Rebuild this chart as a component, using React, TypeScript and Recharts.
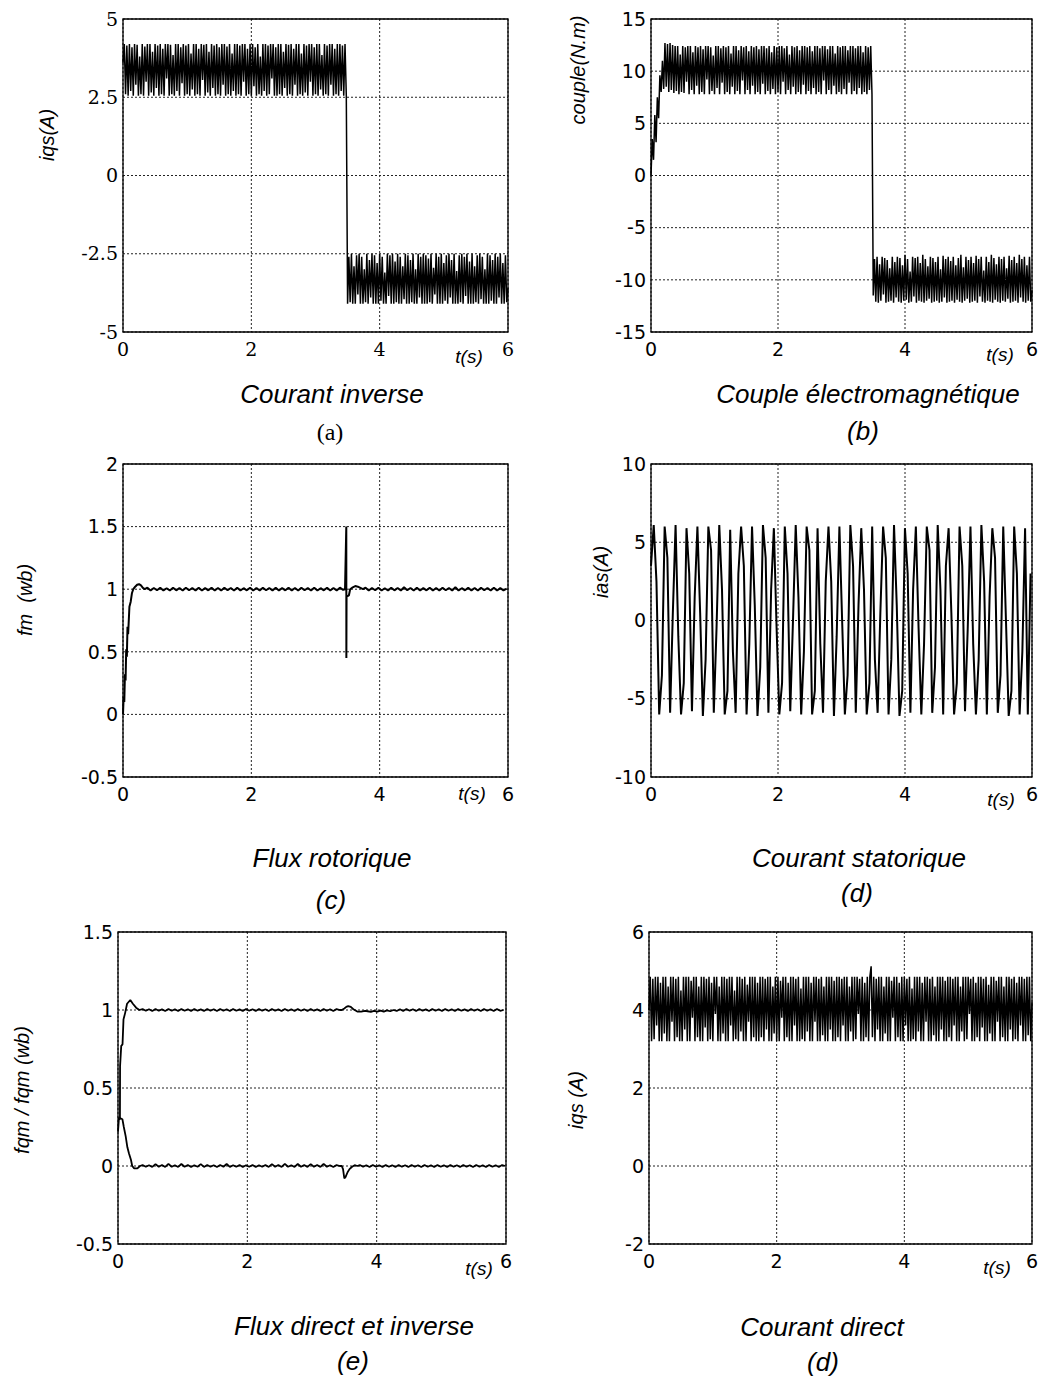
import React from 'react';
import { LineChart, Line, XAxis, YAxis, CartesianGrid, ReferenceArea } from 'recharts';

// ---------- tick labels ----------
const timeTicks = [0, 2, 4, 6];
const iqsInvTicks = [-5, -2.5, 0, 2.5, 5];
const coupleTicks = [-15, -10, -5, 0, 5, 10, 15];
const fluxTicks = [-0.5, 0, 0.5, 1, 1.5, 2];
const iasTicks = [-10, -5, 0, 5, 10];
const fdqTicks = [-0.5, 0, 0.5, 1, 1.5];
const iqsDirTicks = [-2, 0, 2, 4, 6];

// ---------- (a) courant inverse, sampled every 0.02 s ----------
const iqsInvStep = 0.02;
const iqsInvValues = [
  3.6, 4.2, 2.6, 4.15, 2.55, 4.2, 2.7, 4.1, 2.55, 4.2,
  2.9, 4.18, 2.55, 3.8, 2.6, 4.2, 2.55, 4.12, 3.0, 4.2,
  2.55, 4.2, 2.65, 3.95, 2.55, 4.2, 2.8, 4.15, 2.55, 4.2,
  2.6, 4.05, 2.55, 4.2, 3.1, 4.2, 2.55, 4.18, 2.6, 3.85,
  2.55, 4.2, 2.7, 4.2, 2.55, 4.1, 2.95, 4.2, 2.55, 4.15,
  2.6, 4.2, 2.55, 3.9, 2.75, 4.2, 2.55, 4.2, 2.6, 4.05,
  2.55, 4.2, 3.05, 4.18, 2.55, 4.2, 2.65, 3.95, 2.55, 4.2,
  2.8, 4.15, 2.55, 4.2, 2.6, 4.1, 2.55, 4.2, 2.9, 4.2,
  2.55, 4.12, 2.6, 4.2, 2.55, 3.9, 2.7, 4.2, 2.55, 4.2,
  2.6, 4.15, 2.55, 4.2, 3.0, 4.2, 2.55, 4.05, 2.6, 4.2,
  2.55, 4.2, 2.85, 4.1, 2.55, 4.2, 2.6, 3.8, 2.55, 4.2,
  2.7, 4.2, 2.55, 4.15, 2.6, 4.2, 3.1, 4.2, 2.55, 4.1,
  2.55, 4.2, 2.6, 4.2, 2.55, 3.95, 2.8, 4.2, 2.55, 4.18,
  2.6, 4.2, 2.55, 4.05, 2.9, 4.2, 2.55, 4.2, 2.6, 3.9,
  2.55, 4.2, 2.65, 4.15, 2.55, 4.2, 3.0, 4.2, 2.55, 4.1,
  2.6, 4.2, 2.55, 4.2, 2.75, 3.85, 2.55, 4.2, 2.6, 4.15,
  2.55, 4.2, 2.9, 4.2, 2.55, 4.05, 2.6, 4.2, 2.55, 4.2,
  2.7, 4.15, 2.55, 4.2, 2.55,
  -4.1, -2.6, -4.05, -2.5, -4.1, -2.9, -4.1, -2.55, -3.8, -2.5,
  -4.1, -2.6, -4.1, -3.0, -4.05, -2.5, -4.1, -2.7, -3.9, -2.5,
  -4.1, -2.55, -4.1, -2.8, -4.1, -2.5, -4.0, -2.6, -4.1, -3.1,
  -4.1, -2.5, -3.85, -2.55, -4.1, -2.5, -4.1, -2.75, -4.05, -2.5,
  -4.1, -2.6, -4.1, -2.9, -3.95, -2.5, -4.1, -2.55, -4.1, -2.7,
  -4.05, -2.5, -4.1, -3.0, -4.1, -2.5, -3.9, -2.6, -4.1, -2.5,
  -4.1, -2.55, -4.1, -2.65, -4.05, -2.5, -4.1, -2.95, -3.8, -2.5,
  -4.1, -2.6, -4.1, -2.5, -4.1, -2.8, -4.0, -2.55, -4.1, -2.5,
  -3.9, -2.7, -4.1, -2.5, -4.1, -3.05, -4.1, -2.55, -4.05, -2.5,
  -4.1, -2.6, -3.85, -2.5, -4.1, -2.75, -4.1, -2.5, -4.1, -2.9,
  -4.05, -2.55, -4.1, -2.5, -3.95, -2.6, -4.1, -3.0, -4.1, -2.5,
  -4.1, -2.55, -4.0, -2.7, -4.1, -2.5, -4.1, -2.6, -3.9, -2.5,
  -4.1, -2.8, -4.1, -2.55, -4.05, -3.6,
];

// ---------- (b) couple électromagnétique, sampled every 0.02 s ----------
const coupleStep = 0.02;
const coupleValues = [
  0, 3.5, 1.5, 5.8, 3.2, 7.5, 5.5, 9.6, 8.0, 11.0,
  8.3, 12.7, 8.5, 12.6, 8.0, 12.7, 8.2, 12.5, 7.9, 12.4,
  8.1, 12.4, 7.8, 11.6, 8.0, 12.4, 7.9, 12.3, 9.0, 12.4,
  7.8, 12.4, 8.2, 11.8, 7.8, 12.4, 8.6, 12.3, 7.8, 12.4,
  8.0, 12.1, 7.8, 12.4, 9.2, 12.4, 7.8, 12.3, 8.1, 11.5,
  7.8, 12.4, 8.4, 12.4, 7.8, 12.2, 8.9, 12.4, 7.8, 12.3,
  8.0, 12.4, 7.8, 11.7, 8.5, 12.4, 7.8, 12.4, 8.1, 12.0,
  7.8, 12.4, 9.1, 12.3, 7.8, 12.4, 8.2, 11.9, 7.8, 12.4,
  8.6, 12.3, 7.8, 12.4, 8.0, 12.1, 7.8, 12.4, 8.8, 12.4,
  7.8, 12.2, 8.1, 12.4, 7.8, 11.8, 8.3, 12.4, 7.8, 12.3,
  8.0, 12.4, 7.8, 12.4, 9.0, 12.2, 7.8, 12.4, 8.2, 11.6,
  7.8, 12.4, 8.5, 12.3, 7.8, 12.4, 8.0, 12.0, 7.8, 12.4,
  8.7, 12.4, 7.8, 12.3, 8.1, 12.4, 7.8, 11.9, 8.4, 12.4,
  7.8, 12.4, 8.0, 12.2, 7.8, 12.4, 9.1, 12.4, 7.8, 12.1,
  8.2, 12.4, 7.8, 12.4, 8.6, 11.7, 7.8, 12.4, 8.0, 12.3,
  7.8, 12.4, 8.3, 12.4, 7.8, 12.0, 8.9, 12.4, 7.8, 12.4,
  8.1, 12.2, 7.8, 12.4, 8.4, 12.4, 7.8, 11.8, 8.0, 12.4,
  7.8, 12.3, 8.2, 12.4, 7.8,
  -11.5, -8.0, -12.1, -7.8, -12.2, -8.5, -12.0, -7.8, -11.4, -7.9,
  -12.2, -8.1, -12.1, -8.9, -12.0, -7.8, -12.2, -8.3, -11.7, -7.8,
  -12.1, -7.9, -12.2, -8.6, -12.0, -7.6, -11.9, -8.0, -12.2, -9.2,
  -12.1, -7.8, -11.6, -7.9, -12.2, -7.8, -12.0, -8.4, -12.1, -7.6,
  -12.2, -8.0, -12.0, -8.7, -11.8, -7.8, -12.2, -7.9, -12.1, -8.3,
  -12.0, -7.8, -12.2, -9.0, -12.1, -7.7, -11.7, -8.0, -12.2, -7.8,
  -12.1, -8.2, -12.0, -7.8, -12.2, -8.6, -11.9, -7.9, -12.1, -7.6,
  -12.2, -8.8, -12.0, -7.8, -11.8, -8.1, -12.2, -7.8, -12.1, -8.4,
  -12.0, -7.7, -12.2, -8.0, -11.6, -7.8, -12.1, -9.1, -12.2, -7.8,
  -12.0, -8.3, -12.1, -7.6, -12.2, -7.9, -11.9, -8.5, -12.1, -7.8,
  -12.2, -8.0, -12.0, -7.8, -12.1, -8.9, -11.8, -7.7, -12.2, -8.1,
  -12.1, -7.8, -12.0, -8.4, -12.2, -7.6, -11.7, -8.0, -12.1, -7.8,
  -12.2, -8.6, -12.0, -7.8, -12.1, -11.0,
];

// ---------- (c) flux rotorique ----------
const fluxRiseT = [0, 0.01, 0.02, 0.03, 0.04, 0.05, 0.06, 0.07, 0.08, 0.1, 0.12, 0.14, 0.16, 0.19, 0.22, 0.25, 0.28, 0.31, 0.34];
const fluxRiseV = [0, 0.14, 0.1, 0.32, 0.27, 0.52, 0.46, 0.7, 0.64, 0.86, 0.9, 0.97, 1.0, 1.02, 1.035, 1.04, 1.03, 1.01, 1.0];
const fluxPlateau1Start = 0.38;
const fluxPlateau1Step = 0.05;
const fluxPlateau1 = [
  1.012, 0.99, 1.01, 0.992, 1.012, 0.99, 1.008, 0.99, 1.012, 0.991,
  1.01, 0.99, 1.012, 0.992, 1.01, 0.99, 1.012, 0.99, 1.009, 0.991,
  1.012, 0.99, 1.01, 0.99, 1.012, 0.992, 1.01, 0.99, 1.012, 0.99,
  1.008, 0.991, 1.012, 0.99, 1.01, 0.99, 1.012, 0.992, 1.01, 0.99,
  1.012, 0.99, 1.009, 0.991, 1.012, 0.99, 1.01, 0.99, 1.012, 0.992,
  1.01, 0.99, 1.012, 0.99, 1.008, 0.991, 1.012, 0.99, 1.01, 0.99,
  1.012, 0.995,
];
const fluxEventT = [3.46, 3.48, 3.481, 3.484, 3.5, 3.52, 3.54, 3.58, 3.62, 3.66, 3.7, 3.74];
const fluxEventV = [1.0, 1.5, 0.45, 0.95, 0.945, 0.95, 1.0, 1.015, 1.025, 1.02, 1.01, 1.0];
const fluxPlateau2Start = 3.78;
const fluxPlateau2Step = 0.05;
const fluxPlateau2 = [
  1.012, 0.99, 1.01, 0.992, 1.012, 0.99, 1.008, 0.99, 1.012, 0.991,
  1.01, 0.99, 1.015, 0.992, 1.01, 0.99, 1.012, 0.99, 1.009, 0.991,
  1.012, 0.99, 1.01, 0.99, 1.012, 0.992, 1.01, 0.99, 1.016, 0.99,
  1.008, 0.991, 1.012, 0.99, 1.01, 0.99, 1.012, 0.992, 1.01, 0.99,
  1.012, 0.99, 1.009, 0.991, 1.005,
];

// ---------- (d) courant statorique, sampled every 0.043 s ----------
const iasStep = 0.043;
const iasValues = [
  3.5,
  6.1, 2.5, -6.0, -3.5, 6.0, 4.0, -5.9, 0.5, 6.1, -1.0, -6.0, -4.0,
  5.9, 3.0, -5.8, 1.5, 6.0, 0.5, -6.1, -2.5, 6.0, 4.5, -5.9, -0.5,
  6.1, 2.0, -6.0, -4.5, 5.8, -2.0, -5.9, 3.0, 6.0, 3.5, -6.0, -1.5,
  6.0, 1.0, -6.1, -3.0, 6.1, 4.0, -5.9, 2.0, 5.9, -0.5, -6.0, -4.0,
  6.0, 3.0, -5.8, 0.0, 6.1, 1.5, -6.0, -2.0, 6.0, 4.5, -6.0, -4.5,
  5.9, -1.5, -5.9, 2.5, 6.0, 2.5, -6.1, -1.0, 6.0, 0.0, -6.0, -3.5,
  6.1, 3.5, -5.9, 1.0, 5.9, 2.0, -6.0, -4.0, 6.0, -2.5, -5.9, 0.5,
  6.0, 4.0, -6.0, -2.5, 6.1, 1.0, -6.1, -4.5, 5.9, 3.0, -5.9, 2.0,
  6.0, -0.5, -6.0, -1.5, 6.0, 4.5, -5.9, -3.0, 6.1, 2.0, -6.0, 3.5,
  5.9, 0.5, -6.0, -4.0, 6.0, 3.5, -5.8, -0.5, 6.0, -1.5, -6.0, -2.5,
  6.1, 2.5, -6.0, 1.5, 5.9, 4.0, -5.9, -3.5, 6.0, 0.0, -6.1, -4.5,
  6.0, 3.0, -6.0, -2.0,
  5.9, -6.0, 3.0,
];

// ---------- (e) flux direct et inverse ----------
const dirRiseT = [0, 0.03, 0.032, 0.05, 0.07, 0.085, 0.11, 0.14, 0.19, 0.23, 0.28, 0.33];
const dirRiseV = [0.3, 0.3, 0.64, 0.77, 0.78, 0.94, 0.98, 1.04, 1.064, 1.04, 1.015, 1.0];
const dirPlateau1Start = 0.38;
const dirPlateau1Step = 0.05;
const dirPlateau1 = [
  1.006, 0.995, 1.005, 0.994, 1.006, 0.995, 1.004, 0.994, 1.006, 0.995,
  1.005, 0.994, 1.006, 0.995, 1.005, 0.994, 1.006, 0.995, 1.004, 0.994,
  1.006, 0.995, 1.005, 0.994, 1.006, 0.995, 1.005, 0.994, 1.006, 0.995,
  1.004, 0.994, 1.006, 0.995, 1.005, 0.994, 1.006, 0.995, 1.005, 0.994,
  1.006, 0.995, 1.004, 0.994, 1.006, 0.995, 1.005, 0.994, 1.006, 0.995,
  1.005, 0.994, 1.006, 0.995, 1.004, 0.994, 1.006, 0.995, 1.005, 0.994,
  1.006, 1.0,
];
const dirEventT = [3.46, 3.5, 3.53, 3.56, 3.6, 3.64, 3.7, 3.76, 3.82];
const dirEventV = [1.0, 1.01, 1.02, 1.025, 1.02, 1.005, 0.99, 0.99, 0.995];
const dirPlateau2Start = 3.86;
const dirPlateau2Step = 0.05;
const dirPlateau2 = [
  0.992, 0.988, 0.995, 0.989, 0.996, 0.99, 0.998, 0.992, 1.0, 0.994,
  1.005, 0.994, 1.006, 0.995, 1.005, 0.994, 1.006, 0.995, 1.004, 0.994,
  1.006, 0.995, 1.005, 0.994, 1.006, 0.995, 1.005, 0.994, 1.006, 0.995,
  1.004, 0.994, 1.006, 0.995, 1.005, 0.994, 1.006, 0.995, 1.005, 0.994,
  1.006, 0.995, 1.0,
];
const invRiseT = [0, 0.015, 0.068, 0.09, 0.119, 0.145, 0.17, 0.2, 0.22, 0.25, 0.3, 0.34];
const invRiseV = [0.22, 0.31, 0.3, 0.25, 0.19, 0.12, 0.08, 0.04, 0.0, -0.015, -0.015, 0.0];
const invPlateau1Start = 0.38;
const invPlateau1Step = 0.05;
const invPlateau1 = [
  0.006, -0.005, 0.005, -0.006, 0.012, -0.005, 0.006, -0.006, 0.014, -0.005,
  0.005, -0.006, 0.013, -0.005, 0.006, -0.006, 0.005, -0.005, 0.012, -0.006,
  0.006, -0.005, 0.005, -0.006, 0.006, -0.005, 0.013, -0.006, 0.005, -0.005,
  0.006, -0.006, 0.005, -0.005, 0.006, -0.006, 0.005, -0.005, 0.006, -0.006,
  0.012, -0.005, 0.006, -0.006, 0.014, -0.005, 0.005, -0.006, 0.013, -0.005,
  0.006, -0.006, 0.012, -0.005, 0.006, -0.006, 0.014, -0.005, 0.005, -0.006,
  0.006, 0.0,
];
const invEventT = [3.46, 3.48, 3.5, 3.52, 3.55, 3.58, 3.62, 3.66, 3.7];
const invEventV = [0.0, -0.02, -0.08, -0.07, -0.04, -0.02, -0.005, 0.005, 0.0];
const invPlateau2Start = 3.74;
const invPlateau2Step = 0.05;
const invPlateau2 = [
  0.006, -0.005, 0.005, -0.006, 0.006, -0.005, 0.005, -0.006, 0.006, -0.005,
  0.005, -0.006, 0.006, -0.005, 0.005, -0.006, 0.006, -0.005, 0.005, -0.006,
  0.006, -0.005, 0.005, -0.006, 0.006, -0.005, 0.005, -0.006, 0.006, -0.005,
  0.005, -0.006, 0.006, -0.005, 0.005, -0.006, 0.006, -0.005, 0.005, -0.006,
  0.006, -0.005, 0.005, -0.006, 0.006, 0.0,
];

// ---------- (f) courant direct, sampled every 0.02 s ----------
const iqsDirStep = 0.02;
const iqsDirValues = [
  4.0, 4.85, 3.2, 4.8, 3.25, 4.85, 3.6, 4.85, 3.2, 4.7,
  3.2, 4.85, 3.4, 4.85, 3.2, 4.6, 3.2, 4.85, 3.7, 4.85,
  3.2, 4.8, 3.3, 4.85, 3.2, 4.5, 3.2, 4.85, 3.5, 4.85,
  3.2, 4.85, 3.2, 4.75, 3.8, 4.85, 3.2, 4.85, 3.3, 4.6,
  3.2, 4.85, 3.2, 4.85, 3.55, 4.8, 3.2, 4.85, 3.25, 4.7,
  3.2, 4.85, 3.9, 4.85, 3.2, 4.6, 3.2, 4.85, 3.4, 4.85,
  3.2, 4.8, 3.2, 4.85, 3.6, 4.85, 3.2, 4.5, 3.25, 4.85,
  3.2, 4.85, 3.45, 4.8, 3.2, 4.85, 3.2, 4.65, 3.7, 4.85,
  3.2, 4.85, 3.3, 4.85, 3.2, 4.7, 3.2, 4.85, 3.3, 4.85,
  3.2, 4.8, 3.5, 4.85, 3.2, 4.85, 3.2, 4.6, 3.4, 4.85,
  3.2, 4.85, 3.2, 4.75, 3.8, 4.85, 3.2, 4.85, 3.3, 4.7,
  3.2, 4.85, 3.2, 4.85, 3.6, 4.8, 3.2, 4.85, 3.2, 4.55,
  3.25, 4.85, 3.2, 4.85, 3.45, 4.85, 3.2, 4.7, 3.2, 4.85,
  3.7, 4.85, 3.2, 4.8, 3.2, 4.85, 3.35, 4.6, 3.2, 4.85,
  3.2, 4.85, 3.5, 4.85, 3.2, 4.75, 3.2, 4.85, 3.3, 4.85,
  3.2, 4.8, 3.6, 4.85, 3.2, 4.85, 3.2, 4.6, 3.45, 4.85,
  3.2, 4.85, 3.25, 4.85, 3.9, 4.8, 3.2, 4.85, 3.2, 4.7,
  3.3, 4.85, 3.2, 4.85, 5.12, 3.3, 4.85, 3.2, 4.8, 3.5,
  4.85, 3.2, 4.85, 3.2, 4.6, 3.4, 4.85, 3.2, 4.85, 3.2,
  4.75, 3.8, 4.85, 3.2, 4.85, 3.3, 4.7, 3.2, 4.85, 3.2,
  4.85, 3.6, 4.8, 3.2, 4.85, 3.2, 4.55, 3.25, 4.85, 3.2,
  4.85, 3.45, 4.85, 3.2, 4.7, 3.2, 4.85, 3.7, 4.85, 3.2,
  4.8, 3.2, 4.85, 3.35, 4.6, 3.2, 4.85, 3.2, 4.85, 3.5,
  4.85, 3.2, 4.75, 3.2, 4.85, 3.3, 4.85, 3.2, 4.8, 3.6,
  4.85, 3.2, 4.85, 3.2, 4.6, 3.45, 4.85, 3.2, 4.85, 3.25,
  4.85, 3.9, 4.8, 3.2, 4.85, 3.2, 4.7, 3.3, 4.85, 3.2,
  4.85, 3.55, 4.8, 3.2, 4.85, 3.2, 4.65, 3.4, 4.85, 3.2,
  4.85, 3.2, 4.75, 3.7, 4.85, 3.2, 4.85, 3.3, 4.6, 3.2,
  4.85, 3.2, 4.85, 3.5, 4.8, 3.2, 4.85, 3.25, 4.7, 3.2,
  4.85, 3.6, 4.85, 3.2, 4.8, 3.2, 4.85, 3.35, 4.85, 3.2,
  4.2,
];

// ---------- helpers building the point tables ----------
type Pt = { t: number; v: number };
const sampled = (start: number, step: number, values: number[]): Pt[] =>
  values.map((v, i) => ({ t: +(start + i * step).toFixed(4), v }));
const paired = (ts: number[], vs: number[]): Pt[] => ts.map((t, i) => ({ t, v: vs[i] }));

const iqsInvData = sampled(0, iqsInvStep, iqsInvValues);
const coupleData = sampled(0, coupleStep, coupleValues);
const fluxData = [
  ...paired(fluxRiseT, fluxRiseV),
  ...sampled(fluxPlateau1Start, fluxPlateau1Step, fluxPlateau1),
  ...paired(fluxEventT, fluxEventV),
  ...sampled(fluxPlateau2Start, fluxPlateau2Step, fluxPlateau2),
];
const iasData = sampled(0, iasStep, iasValues);
const dirFluxData = [
  ...paired(dirRiseT, dirRiseV),
  ...sampled(dirPlateau1Start, dirPlateau1Step, dirPlateau1),
  ...paired(dirEventT, dirEventV),
  ...sampled(dirPlateau2Start, dirPlateau2Step, dirPlateau2),
];
const invFluxData = [
  ...paired(invRiseT, invRiseV),
  ...sampled(invPlateau1Start, invPlateau1Step, invPlateau1),
  ...paired(invEventT, invEventV),
  ...sampled(invPlateau2Start, invPlateau2Step, invPlateau2),
];
const iqsDirData = sampled(0, iqsDirStep, iqsDirValues);

// ---------- layout ----------
const YW = 70;
const MT = 12;
const MR = 24;
const XH = 40;

type Series = { data: Pt[]; width?: number };
type PanelProps = {
  left: number; top: number; w: number; h: number;
  yDomain: [number, number]; yTicks: number[]; serif?: boolean; series: Series[];
};

function Panel({ left, top, w, h, yDomain, yTicks, serif, series }: PanelProps) {
  const tick = {
    fontSize: 19,
    fill: '#000',
    fontFamily: serif ? '"DejaVu Serif", serif' : '"DejaVu Sans", sans-serif',
  };
  return (
    <div style={{ position: 'absolute', left: left - YW, top: top - MT }}>
      <LineChart
        width={YW + w + MR}
        height={MT + h + XH}
        margin={{ top: MT, right: MR, bottom: 0, left: 0 }}
      >
        <CartesianGrid stroke="#222" strokeDasharray="2 2" />
        <XAxis
          type="number" dataKey="t" domain={[0, 6]} ticks={timeTicks} interval={0}
          axisLine={false} tickLine={false} tickSize={0} tickMargin={11} height={XH} tick={tick}
        />
        <YAxis
          type="number" domain={yDomain} ticks={yTicks} interval={0}
          axisLine={false} tickLine={false} tickSize={0} tickMargin={5} width={YW} tick={tick}
        />
        {series.map((s, i) => (
          <Line
            key={i} data={s.data} dataKey="v" type="linear" stroke="#000"
            strokeWidth={s.width ?? 1.1} strokeLinejoin="bevel" dot={false} activeDot={false}
            isAnimationActive={false}
          />
        ))}
        <ReferenceArea
          x1={0} x2={6} y1={yDomain[0]} y2={yDomain[1]}
          fill="none" fillOpacity={0} stroke="#000" strokeWidth={1.3}
        />
      </LineChart>
    </div>
  );
}

const sansFont = '"Liberation Sans", Arial, sans-serif';
const serifFont = '"Liberation Serif", "Times New Roman", serif';

function Caption({ x, y, text, size = 26, serif = false, italic = true }: { x: number; y: number; text: string; size?: number; serif?: boolean; italic?: boolean }) {
  return (
    <text x={x} y={y} textAnchor="middle" fontSize={size} fontStyle={italic ? 'italic' : 'normal'}
      fontFamily={serif ? serifFont : sansFont} fill="#000" style={{ whiteSpace: 'pre' }}>
      {text}
    </text>
  );
}

function VLabel({ x, y, text }: { x: number; y: number; text: string }) {
  return (
    <text transform={`translate(${x},${y}) rotate(-90)`} textAnchor="middle" dominantBaseline="central"
      fontSize={20} fontStyle="italic" fontFamily={sansFont} fill="#000" style={{ whiteSpace: 'pre' }}>
      {text}
    </text>
  );
}

export default function App() {
  return (
    <div style={{ position: 'absolute', left: 0, top: 0, width: 1047, height: 1381, background: '#fff' }}>
      <Panel left={123} top={19} w={385} h={313} yDomain={[-5, 5]} yTicks={iqsInvTicks} serif
        series={[{ data: iqsInvData, width: 1.5 }]} />
      <Panel left={651} top={19} w={381} h={313} yDomain={[-15, 15]} yTicks={coupleTicks}
        series={[{ data: coupleData, width: 1.5 }]} />
      <Panel left={123} top={464} w={385} h={313} yDomain={[-0.5, 2]} yTicks={fluxTicks}
        series={[{ data: fluxData, width: 2.0 }]} />
      <Panel left={651} top={464} w={381} h={313} yDomain={[-10, 10]} yTicks={iasTicks}
        series={[{ data: iasData, width: 2.0 }]} />
      <Panel left={118} top={932} w={388} h={312} yDomain={[-0.5, 1.5]} yTicks={fdqTicks}
        series={[{ data: dirFluxData, width: 1.8 }, { data: invFluxData, width: 1.8 }]} />
      <Panel left={649} top={932} w={383} h={312} yDomain={[-2, 6]} yTicks={iqsDirTicks}
        series={[{ data: iqsDirData, width: 1.5 }]} />

      <svg width={1047} height={1381} style={{ position: 'absolute', left: 0, top: 0, pointerEvents: 'none' }}>
        <VLabel x={47} y={135} text="iqs(A)" />
        <VLabel x={578} y={70} text="couple(N.m)" />
        <VLabel x={25} y={600} text="fm  (wb)" />
        <VLabel x={601} y={572} text="ias(A)" />
        <VLabel x={22} y={1090} text="fqm / fqm (wb)" />
        <VLabel x={576} y={1100} text="iqs (A)" />

        <Caption x={469} y={363} text="t(s)" size={19} />
        <Caption x={1000} y={361} text="t(s)" size={19} />
        <Caption x={472} y={800} text="t(s)" size={19} />
        <Caption x={1001} y={806} text="t(s)" size={19} />
        <Caption x={479} y={1275} text="t(s)" size={19} />
        <Caption x={997} y={1274} text="t(s)" size={19} />

        <Caption x={332} y={403} text="Courant inverse" />
        <Caption x={330} y={440} text="(a)" serif italic={false} size={24} />
        <Caption x={868} y={403} text="Couple électromagnétique" />
        <Caption x={863} y={440} text="(b)" />
        <Caption x={332} y={867} text="Flux rotorique" />
        <Caption x={331} y={909} text="(c)" />
        <Caption x={859} y={867} text="Courant statorique" />
        <Caption x={857} y={902} text="(d)" />
        <Caption x={354} y={1335} text="Flux direct et inverse" />
        <Caption x={353} y={1370} text="(e)" />
        <Caption x={822} y={1336} text="Courant direct" />
        <Caption x={823} y={1371} text="(d)" />
      </svg>
    </div>
  );
}
